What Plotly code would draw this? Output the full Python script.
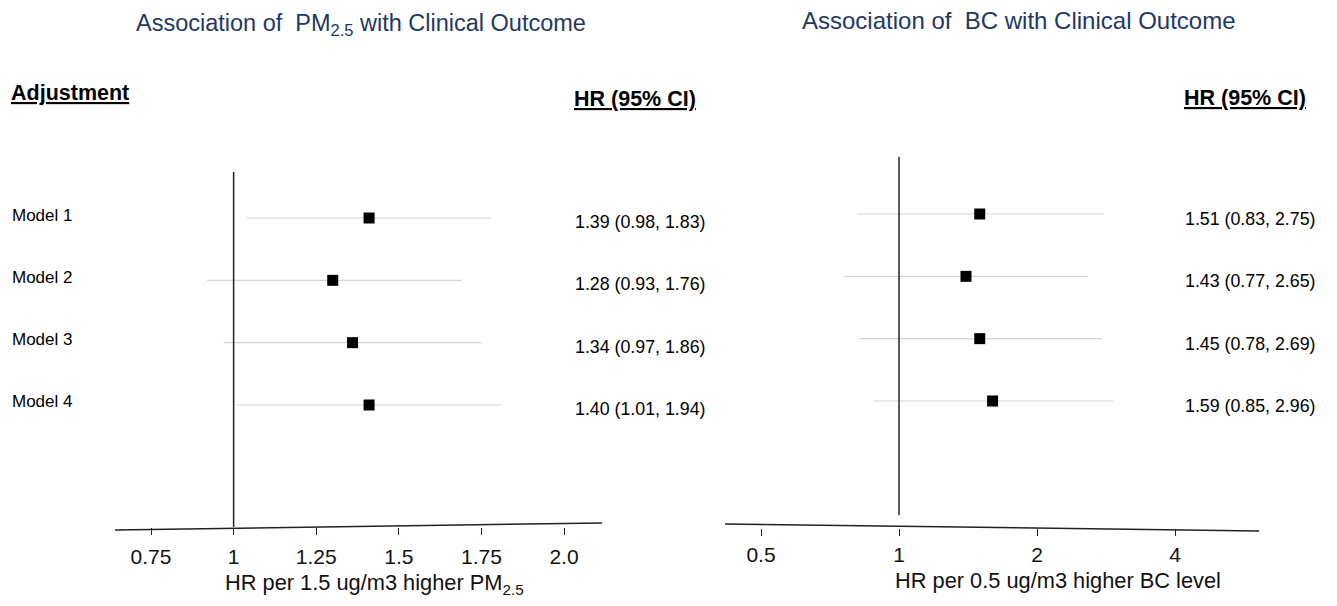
import plotly.graph_objects as go

# ---------------- data ----------------
models = ["Model 1", "Model 2", "Model 3", "Model 4"]
rows = [1, 2, 3, 4]

# PM2.5 panel (positions as drawn)
pm_est = [1.41, 1.30, 1.36, 1.41]
pm_lo = [1.04, 0.92, 0.97, 1.01]
pm_hi = [1.78, 1.69, 1.75, 1.81]
pm_text = ["1.39 (0.98, 1.83)", "1.28 (0.93, 1.76)", "1.34 (0.97, 1.86)", "1.40 (1.01, 1.94)"]
pm_tickvals = [0.75, 1, 1.25, 1.5, 1.75, 2.0]
pm_ticktext = ["0.75", "1", "1.25", "1.5", "1.75", "2.0"]

# BC panel (positions as drawn)
bc_est = [1.50, 1.40, 1.50, 1.60]
bc_lo = [0.81, 0.76, 0.82, 0.88]
bc_hi = [2.80, 2.58, 2.77, 2.93]
bc_text = ["1.51 (0.83, 2.75)", "1.43 (0.77, 2.65)", "1.45 (0.78, 2.69)", "1.59 (0.85, 2.96)"]
bc_tickvals = [0.5, 1, 2, 4]
bc_ticktext = ["0.5", "1", "2", "4"]

# page is 1337x606; the html body has an 8px margin, so the figure is drawn
# 8px in from the top-left corner and sized to fit the window exactly
OFF = 8
W, H = 1337 - 2 * OFF, 606 - 2 * OFF
FONT = "Arial, Liberation Sans, sans-serif"
NAVY = "#1f3864"


def px(x):
    return (x - OFF) / W


def py(y):
    return 1 - (y - OFF) / H


def ci_segments(lo, hi, rr):
    xs, ys = [], []
    for a, b, r in zip(lo, hi, rr):
        xs += [a, b, None]
        ys += [r, r, None]
    return xs, ys


fig = go.Figure()

# left panel
xs, ys = ci_segments(pm_lo, pm_hi, rows)
fig.add_trace(go.Scatter(x=xs, y=ys, mode="lines", line=dict(color="#d4d4d4", width=1.2),
                         xaxis="x", yaxis="y", hoverinfo="skip", showlegend=False))
fig.add_trace(go.Scatter(x=pm_est, y=rows, mode="markers",
                         marker=dict(symbol="square", size=11, color="black"),
                         xaxis="x", yaxis="y", showlegend=False))

# right panel
xs, ys = ci_segments(bc_lo, bc_hi, rows)
fig.add_trace(go.Scatter(x=xs, y=ys, mode="lines", line=dict(color="#d4d4d4", width=1.2),
                         xaxis="x2", yaxis="y2", hoverinfo="skip", showlegend=False))
fig.add_trace(go.Scatter(x=bc_est, y=rows, mode="markers",
                         marker=dict(symbol="square", size=11, color="black"),
                         xaxis="x2", yaxis="y2", showlegend=False))

tickfont = dict(family=FONT, size=21, color="#111")

fig.update_layout(
    width=W, height=H,
    margin=dict(l=0, r=0, t=0, b=0),
    paper_bgcolor="white", plot_bgcolor="white",
    showlegend=False,
    xaxis=dict(domain=[px(115), px(602)], range=[0.641, 2.115], anchor="y",
               tickvals=pm_tickvals, ticktext=pm_ticktext, ticks="outside", ticklen=7,
               tickcolor="#222", tickwidth=1.2, showline=False, showgrid=False, zeroline=False,
               tickfont=tickfont, ticklabelstandoff=4),
    yaxis=dict(domain=[py(527), py(150)], range=[5.9575, -0.0910], visible=False,
               anchor="x"),
    xaxis2=dict(domain=[px(725), px(1259)], type="log", range=[-0.3796, 0.7853], anchor="y2",
                tickvals=bc_tickvals, ticktext=bc_ticktext, ticks="outside", ticklen=7,
                tickcolor="#222", tickwidth=1.2, showline=False, showgrid=False, zeroline=False,
                tickfont=tickfont, ticklabelstandoff=1),
    yaxis2=dict(domain=[py(528), py(146)], range=[6.0377, -0.0910], visible=False,
                anchor="x2"),
)

shapes = [
    # slanted axis baselines
    dict(type="line", xref="paper", yref="paper", x0=px(115), y0=py(530), x1=px(602), y1=py(523),
         line=dict(color="#222", width=1.5)),
    dict(type="line", xref="paper", yref="paper", x0=px(725), y0=py(524), x1=px(1259), y1=py(531),
         line=dict(color="#222", width=1.5)),
    # reference lines at HR = 1
    dict(type="line", xref="x", yref="paper", x0=1, x1=1, y0=py(527), y1=py(172),
         line=dict(color="#222", width=1.5)),
    dict(type="line", xref="x2", yref="paper", x0=1, x1=1, y0=py(515), y1=py(157),
         line=dict(color="#222", width=1.5)),
]
fig.update_layout(shapes=shapes)

ann = []
nb = "\u00a0"
ann.append(dict(text=f"Association of{nb}{nb}PM<sub>2.5</sub> with Clinical Outcome",
                x=px(361), y=py(24), xref="paper", yref="paper", xanchor="center", yanchor="middle",
                showarrow=False, font=dict(family=FONT, size=23.5, color=NAVY)))
ann.append(dict(text=f"Association of{nb}{nb}BC with Clinical Outcome",
                x=px(1019), y=py(21), xref="paper", yref="paper", xanchor="center", yanchor="middle",
                showarrow=False, font=dict(family=FONT, size=24, color=NAVY)))

ul = '<span style="text-decoration:underline"><b>{}</b></span>'
ann.append(dict(text=ul.format("Adjustment"), x=px(9), y=py(93), xref="paper", yref="paper",
                xanchor="left", yanchor="middle", showarrow=False,
                font=dict(family=FONT, size=21.5, color="black")))
ann.append(dict(text=ul.format("HR (95% CI)"), x=px(572), y=py(99), xref="paper", yref="paper",
                xanchor="left", yanchor="middle", showarrow=False,
                font=dict(family=FONT, size=21.5, color="black")))
ann.append(dict(text=ul.format("HR (95% CI)"), x=px(1182), y=py(98), xref="paper", yref="paper",
                xanchor="left", yanchor="middle", showarrow=False,
                font=dict(family=FONT, size=21.5, color="black")))

for m, r in zip(models, rows):
    ann.append(dict(text=m, x=px(10), y=r, xref="paper", yref="y", yshift=3,
                    xanchor="left", yanchor="middle", showarrow=False,
                    font=dict(family=FONT, size=17, color="black")))
for t, r in zip(pm_text, rows):
    ann.append(dict(text=t, x=px(573), y=r, xref="paper", yref="y", yshift=-4,
                    xanchor="left", yanchor="middle", showarrow=False,
                    font=dict(family=FONT, size=17.8, color="black")))
for t, r in zip(bc_text, rows):
    ann.append(dict(text=t, x=px(1183), y=r, xref="paper", yref="y2", yshift=-5,
                    xanchor="left", yanchor="middle", showarrow=False,
                    font=dict(family=FONT, size=17.8, color="black")))

ann.append(dict(text="HR per 1.5 ug/m3 higher PM<sub>2.5</sub>", x=px(374), y=py(584),
                xref="paper", yref="paper", xanchor="center", yanchor="middle", showarrow=False,
                font=dict(family=FONT, size=21.8, color="#111")))
ann.append(dict(text="HR per 0.5 ug/m3 higher BC level", x=px(1058), y=py(580),
                xref="paper", yref="paper", xanchor="center", yanchor="middle", showarrow=False,
                font=dict(family=FONT, size=21.8, color="#111")))

fig.update_layout(annotations=ann)

fig.write_html("out.html")
